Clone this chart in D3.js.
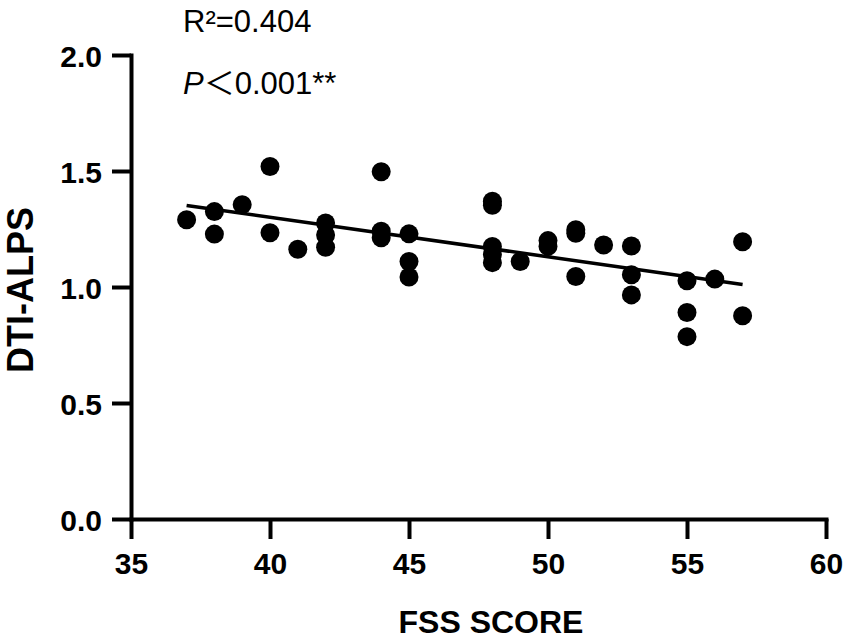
<!DOCTYPE html>
<html>
<head>
<meta charset="utf-8">
<script src="https://cdn.jsdelivr.net/npm/d3@7/dist/d3.min.js"></script>
<style>
  body { margin: 0; background: #fff; }
  svg { display: block; }
  .axis path, .axis line { stroke: #000; stroke-width: 4; }
  .axis path { stroke-linecap: square; }
  .axis text { font-family: "Liberation Sans", Arial, sans-serif; font-weight: bold; font-size: 30px; fill: #000; }
</style>
</head>
<body>
<div id="chart"></div>
<script>
// FSS score (x) and DTI-ALPS index (y)
const fssScore = [37, 38, 38, 39, 40, 40, 41, 42, 42, 42,
                  44, 44, 44, 45, 45, 45, 48, 48, 48, 48, 48,
                  49, 50, 50, 51, 51, 51, 52, 53, 53, 53,
                  55, 55, 55, 56, 57, 57];
const dtiAlps = [1.29, 1.325, 1.228, 1.355, 1.519, 1.234, 1.163, 1.276, 1.224, 1.171,
                 1.497, 1.24, 1.212, 1.229, 1.11, 1.043, 1.37, 1.352, 1.175, 1.14, 1.105,
                 1.11, 1.2, 1.175, 1.247, 1.232, 1.045, 1.181, 1.177, 1.053, 0.966,
                 1.027, 0.89, 0.786, 1.034, 1.195, 0.876];
const xTicks = [35, 40, 45, 50, 55, 60];
const yTicks = [0, 0.5, 1.0, 1.5, 2.0];
const xDomain = [35, 60];
const yDomain = [0, 2];
const statLines = ["R²=0.404", "P", "＜", "0.001**"];

const width = 851, height = 643;
const svg = d3.select("#chart").append("svg")
    .attr("width", width)
    .attr("height", height);

const x = d3.scaleLinear().domain(xDomain).range([131, 826]);
const y = d3.scaleLinear().domain(yDomain).range([519, 55]);

const points = fssScore.map((v, i) => ({fss: v, alps: dtiAlps[i]}));

// axes
svg.append("g").attr("class", "axis")
    .attr("transform", `translate(0,${y(0)})`)
    .call(d3.axisBottom(x).tickValues(xTicks).tickSize(20).tickSizeOuter(0).tickPadding(12).tickFormat(d3.format("d")));

svg.append("g").attr("class", "axis")
    .attr("transform", `translate(${x(35)},0)`)
    .call(d3.axisLeft(y).tickValues(yTicks).tickSize(19).tickSizeOuter(0).tickPadding(10).tickFormat(d3.format(".1f")));

svg.selectAll(".axis text").attr("dy", null);
svg.selectAll(".axis").filter((d, i) => i === 0).selectAll(".tick text").attr("y", 55).attr("dy", 0);
svg.selectAll(".axis").filter((d, i) => i === 1).selectAll(".tick text").attr("dy", "0.37em");

// least squares fit
const mx = d3.mean(fssScore), my = d3.mean(dtiAlps);
const sxy = d3.sum(points, d => (d.fss - mx) * (d.alps - my));
const sxx = d3.sum(points, d => (d.fss - mx) ** 2);
const slope = sxy / sxx, intercept = my - slope * mx;
const [x0, x1] = d3.extent(fssScore);

svg.append("line")
    .attr("x1", x(x0)).attr("y1", y(intercept + slope * x0))
    .attr("x2", x(x1)).attr("y2", y(intercept + slope * x1))
    .attr("stroke", "#000")
    .attr("stroke-width", 3.5);

svg.selectAll("circle.dot")
    .data(points).enter()
    .append("circle")
    .attr("class", "dot")
    .attr("cx", d => x(d.fss))
    .attr("cy", d => y(d.alps))
    .attr("r", 9.5)
    .attr("fill", "#000");

// stats text
const stat = svg.append("g")
    .style("font-family", "'Liberation Sans', Arial, sans-serif")
    .style("font-size", "31px")
    .attr("fill", "#000");
stat.append("text").attr("x", 183).attr("y", 32).text(statLines[0]);
const pt = stat.append("text").attr("x", 183).attr("y", 94);
pt.append("tspan").style("font-style", "italic").text(statLines[1]);
pt.append("tspan").style("font-family", "'Noto Sans CJK SC', sans-serif").text(statLines[2]);
pt.append("tspan").text(statLines[3]);

// axis titles
svg.append("text")
    .attr("x", 491).attr("y", 633)
    .attr("text-anchor", "middle")
    .style("font-family", "'Liberation Sans', Arial, sans-serif")
    .style("font-weight", "bold")
    .style("font-size", "32px")
    .text("FSS SCORE");

svg.append("text")
    .attr("transform", `translate(33,290) rotate(-90)`)
    .attr("text-anchor", "middle")
    .style("font-family", "'Liberation Sans', Arial, sans-serif")
    .style("font-weight", "bold")
    .style("font-size", "36px")
    .text("DTI-ALPS");
</script>
</body>
</html>
